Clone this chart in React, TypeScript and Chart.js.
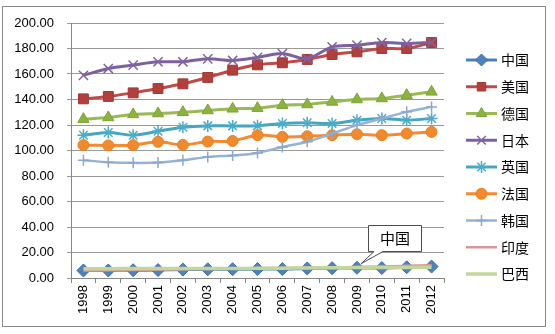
import React, { useEffect, useRef } from 'react';
import { Chart, registerables } from 'chart.js';
import { drawPoint } from 'chart.js/helpers';

Chart.register(...registerables);

const years = ['1998', '1999', '2000', '2001', '2002', '2003', '2004', '2005', '2006', '2007', '2008', '2009', '2010', '2011', '2012'];
const seriesNames = ['中国', '美国', '德国', '日本', '英国', '法国', '韩国', '印度', '巴西'];
const china = [5.9, 5.9, 6.1, 6.2, 6.6, 6.8, 6.9, 7.0, 7.0, 7.5, 7.7, 8.0, 7.8, 8.4, 9.0];
const usa = [140.5, 142.4, 145.2, 148.6, 152.3, 157.3, 163.0, 167.2, 168.8, 171.4, 175.3, 177.4, 180.0, 180.0, 184.7];
const germany = [124.6, 125.9, 128.3, 129.0, 130.0, 131.4, 132.7, 133.2, 135.5, 136.1, 138.1, 140.0, 140.8, 143.4, 146.0];
const japan = [158.9, 164.3, 167.0, 169.6, 169.6, 171.9, 170.6, 173.0, 176.0, 172.0, 181.3, 182.6, 184.7, 184.0, 184.7];
const uk = [112.0, 114.1, 112.0, 115.1, 118.3, 119.3, 119.3, 119.5, 121.2, 121.7, 121.2, 123.8, 125.1, 123.8, 125.1];
const france = [104.2, 104.0, 104.2, 106.8, 104.4, 107.0, 107.5, 112.0, 110.7, 111.2, 112.0, 112.8, 112.0, 113.3, 114.6];
const korea = [92.4, 90.8, 90.3, 90.6, 92.4, 95.0, 96.1, 98.1, 102.8, 106.8, 113.3, 119.9, 125.1, 130.3, 134.2];
const india = [5.8, 6.0, 6.3, 6.6, 6.9, 7.1, 7.4, 7.7, 7.8, 8.0, 8.3, 8.6, 9.0, 9.6, 10.0];
const brazil = [7.3, 7.3, 7.5, 7.5, 7.4, 7.4, 7.4, 7.6, 7.7, 7.9, 8.0, 8.2, 8.2, 8.3, 8.4];
const yTickMin = 0;
const yTickMax = 200;
const yTickStep = 20;
const calloutText = '中国';
const calloutIndex = 11;

const allValues = [china, usa, germany, japan, uk, france, korea, india, brazil];

const styles = [
  { line: '#4A7EBB', fill: '#4F81BD', border: '#3F6FA8', style: 'rectRot', r: 6.5, w: 3, pw: 1 },
  { line: '#BE4B48', fill: '#B1403D', border: '#A03835', style: 'rect', r: 7, w: 3, pw: 1 },
  { line: '#98B954', fill: '#8CB340', border: '#7FA23A', style: 'triangle', r: 6.5, w: 3, pw: 1 },
  { line: '#7D60A0', fill: '#8064A2', border: '#8064A2', style: 'crossRot', r: 6.5, w: 3, pw: 1.5 },
  { line: '#46A5C0', fill: '#4BACC6', border: '#4BACC6', style: 'star', r: 6, w: 3, pw: 1.5 },
  { line: '#F38B33', fill: '#F08A2E', border: '#E98125', style: 'circle', r: 5.5, w: 3, pw: 1 },
  { line: '#95B3D7', fill: '#95B3D7', border: '#8AA9D0', style: 'cross', r: 5.5, w: 2.5, pw: 1.5 },
  { line: '#D99694', fill: '#D99694', border: '#D99694', style: false, r: 0, w: 2.5, pw: 1 },
  { line: '#C3D69B', fill: '#C3D69B', border: '#C3D69B', style: false, r: 0, w: 3.5, pw: 1 },
];

const bgPlugin = {
  id: 'bgBorder',
  beforeDraw(chart: any) {
    const ctx = chart.ctx;
    ctx.save();
    ctx.fillStyle = '#ffffff';
    ctx.fillRect(0, 0, chart.width, chart.height);
    ctx.strokeStyle = '#8a8a8a';
    ctx.lineWidth = 1;
    ctx.strokeRect(2.5, 6.5, 543, 320);
    ctx.restore();
  },
};

const legendPlugin = {
  id: 'customLegend',
  afterDraw(chart: any) {
    const ctx = chart.ctx;
    ctx.save();
    chart.data.datasets.forEach((ds: any, i: number) => {
      const y = 60 + i * 26.75;
      const st = styles[i];
      ctx.strokeStyle = st.line;
      ctx.lineWidth = st.w;
      ctx.beginPath();
      ctx.moveTo(466, y);
      ctx.lineTo(497, y);
      ctx.stroke();
      if (st.style) {
        ctx.fillStyle = st.fill;
        ctx.strokeStyle = st.border;
        ctx.lineWidth = st.pw;
        drawPoint(ctx, { pointStyle: st.style, radius: Math.min(st.r, 6), rotation: 0, borderWidth: st.pw } as any, 481.5, y);
      }
      ctx.fillStyle = '#000';
      ctx.font = '14px "Noto Sans CJK SC"';
      ctx.textBaseline = 'middle';
      ctx.textAlign = 'left';
      ctx.fillText(ds.label, 501, y);
    });
    ctx.restore();
  },
};

const calloutPlugin = {
  id: 'callout',
  afterDatasetsDraw(chart: any) {
    const meta = chart.getDatasetMeta(0);
    const pt = meta.data[calloutIndex];
    if (!pt) return;
    const ctx = chart.ctx;
    const tipX = pt.x + 4;
    const tipY = pt.y - 4;
    const x0 = 368.5, y0 = 225.5, x1 = 421.5, y1 = 251.5;
    ctx.save();
    ctx.beginPath();
    ctx.moveTo(x0, y0);
    ctx.lineTo(x1, y0);
    ctx.lineTo(x1, y1);
    ctx.lineTo(383, y1);
    ctx.lineTo(tipX, tipY);
    ctx.lineTo(374, y1);
    ctx.lineTo(x0, y1);
    ctx.closePath();
    ctx.fillStyle = '#ffffff';
    ctx.fill();
    ctx.strokeStyle = '#4d4d4d';
    ctx.lineWidth = 1;
    ctx.stroke();
    ctx.fillStyle = '#000';
    ctx.font = '15px "Noto Sans CJK SC"';
    ctx.textAlign = 'center';
    ctx.textBaseline = 'middle';
    ctx.fillText(calloutText, (x0 + x1) / 2, (y0 + y1) / 2);
    ctx.restore();
  },
};

export default function App() {
  const ref = useRef<HTMLCanvasElement>(null);
  useEffect(() => {
    if (!ref.current) return;
    const datasets = allValues.map((vals, i) => {
      const st = styles[i];
      return {
        label: seriesNames[i],
        data: vals,
        borderColor: st.line,
        borderWidth: st.w,
        backgroundColor: st.fill,
        pointBackgroundColor: st.fill,
        pointBorderColor: st.border,
        pointBorderWidth: st.pw,
        pointStyle: st.style,
        pointRadius: st.r,
        tension: 0.3,
        order: 9 - i,
        fill: false,
      };
    });
    const chart = new Chart(ref.current, {
      type: 'line',
      data: { labels: years, datasets: datasets as any },
      options: {
        responsive: false,
        animation: false,
        devicePixelRatio: 1,
        layout: { padding: { left: 0, right: 111, top: 23, bottom: 0 } },
        plugins: { legend: { display: false }, tooltip: { enabled: false } },
        scales: {
          x: {
            type: 'category',
            offset: true,
            grid: { display: true, drawOnChartArea: false, drawTicks: true, tickLength: 5, offset: true, color: '#868686' },
            border: { color: '#868686' },
            ticks: { minRotation: 90, maxRotation: 90, color: '#000', padding: 2, font: { size: 13, family: '"Liberation Sans"' } },
            afterFit: (s: any) => { s.height = 56; },
          },
          y: {
            min: yTickMin,
            max: yTickMax,
            grid: { color: '#999999', tickLength: 4, drawTicks: true },
            border: { color: '#868686' },
            ticks: {
              stepSize: yTickStep,
              color: '#000',
              padding: 13,
              font: { size: 13, family: '"Liberation Sans"' },
              callback: (v: any) => Number(v).toFixed(2),
            },
            afterFit: (s: any) => { s.width = 71; },
          },
        },
      },
      plugins: [bgPlugin, legendPlugin, calloutPlugin],
    });
    return () => chart.destroy();
  }, []);
  return (
    <div style={{ position: 'fixed', left: 0, top: 0, width: 555, height: 334 }}>
      <canvas ref={ref} width={555} height={334} style={{ width: 555, height: 334 }} />
    </div>
  );
}
